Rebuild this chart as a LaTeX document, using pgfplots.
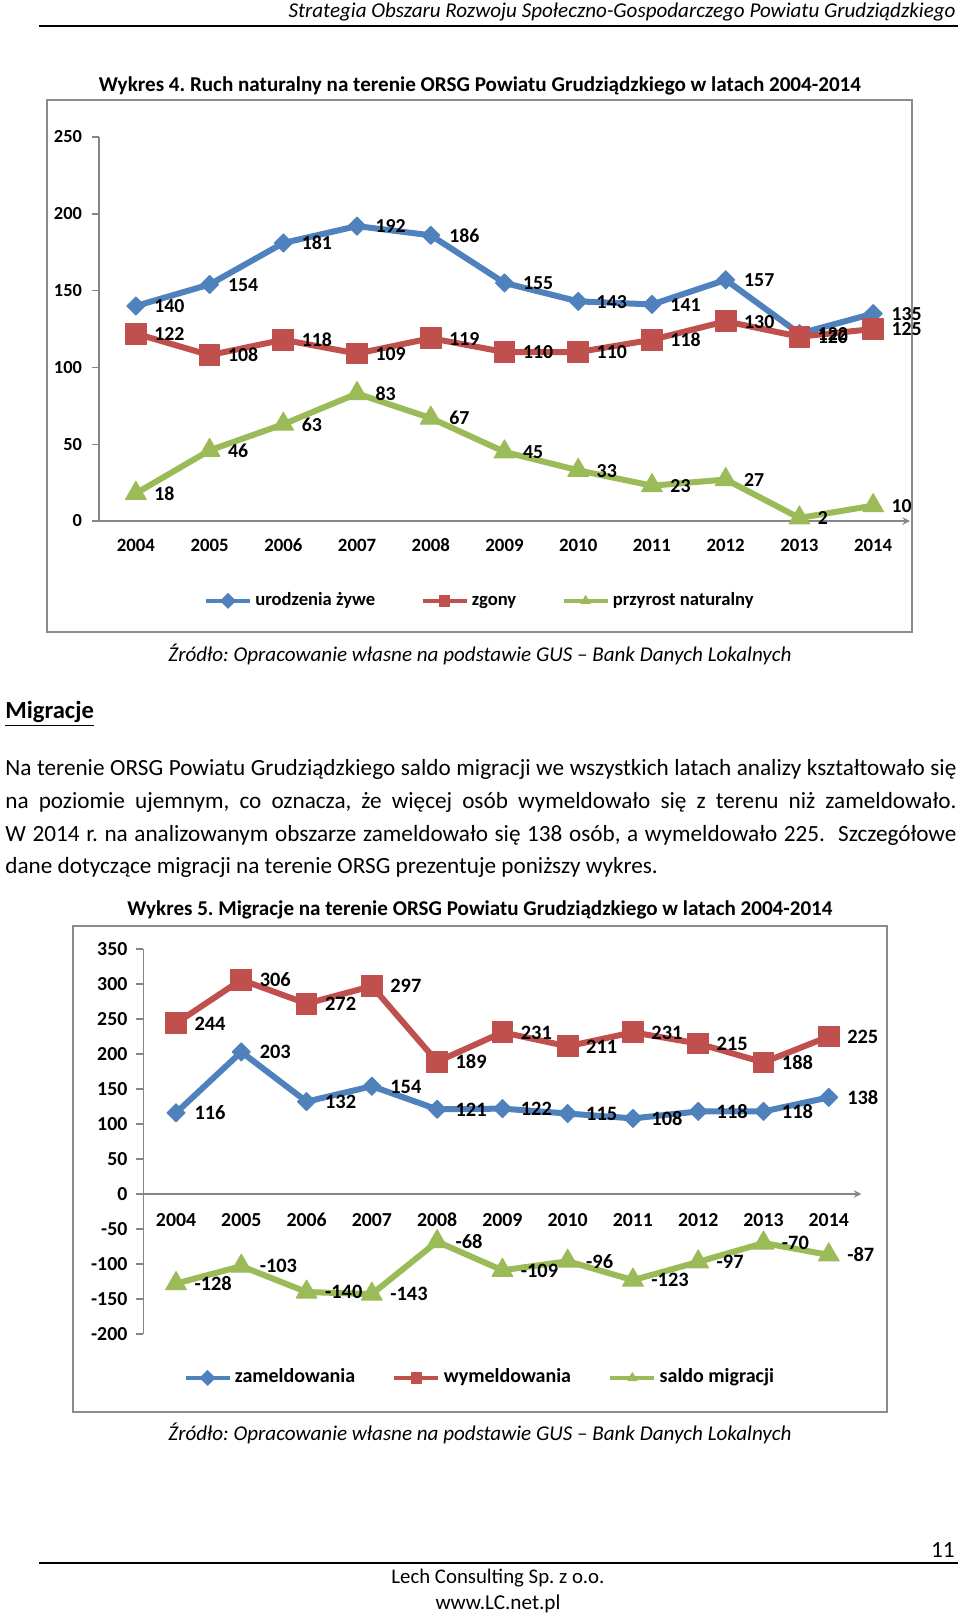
\documentclass[border=0pt]{standalone}
\usepackage{fontspec}
\setmainfont{Carlito}
\usepackage{pgfplots}
\usepackage{pgfplotstable}
\pgfplotsset{compat=1.18}
\frenchspacing
\definecolor{cblue}{HTML}{4F81BD}
\definecolor{cred}{HTML}{C0504D}
\definecolor{cgreen}{HTML}{9BBB59}
\definecolor{agrey}{HTML}{868686}
\definecolor{fgrey}{HTML}{8C8C8C}

\pgfplotstableread{
x a b c
0 140 122 18
1 154 108 46
2 181 118 63
3 192 109 83
4 186 119 67
5 155 110 45
6 143 110 33
7 141 118 23
8 157 130 27
9 122 120 2
10 135 125 10
}\dataA

\pgfplotstableread{
x a b c
0 116 244 -128
1 203 306 -103
2 132 272 -140
3 154 297 -143
4 121 189 -68
5 122 231 -109
6 115 211 -96
7 108 231 -123
8 118 215 -97
9 118 188 -70
10 138 225 -87
}\dataB

\pgfplotsset{
  xlsaxis/.style={
    scale only axis, clip=false,
    xmin=-0.5, xmax=10.5, xtick={0,1,2,3,4,5,6,7,8,9,10},
    xticklabels={2004,2005,2006,2007,2008,2009,2010,2011,2012,2013,2014},
    axis y line=left,
    axis line style={-, draw=agrey, line width=0.7pt},
    every inner x axis line/.append style={-},
    every outer x axis line/.append style={-},
    every inner y axis line/.append style={-},
    every outer y axis line/.append style={-},
    tick align=outside,
    major tick length=3.5pt,
    major y tick style={draw=agrey, line width=0.7pt},
    major x tick style={draw=none},
    /pgf/number format/assume math mode=true,
    hide obscured x ticks=false, hide obscured y ticks=false,
    nodes near coords,
    every node near coord/.append style={anchor=west, xshift=8pt, text=black, inner sep=1pt, text height=6.8pt, text depth=0pt},
    legend style={draw=none, fill=none, legend columns=3, anchor=center,
      nodes={inner sep=1.5pt, text height=7pt, text depth=2pt}},
    legend image code/.code={\draw[mark repeat=2,mark phase=2,#1] plot coordinates {(0pt,0pt) (11pt,0pt) (22pt,0pt)};},
    legend image post style={line width=2.3pt, mark size=2.6pt},
  },
  sblue/.style={color=cblue, line width=3pt, line join=round, mark=square*, mark size=3.2pt, mark options={rotate=45, solid, fill=cblue, draw=cblue, line width=0.5pt}},
  sred/.style={color=cred, line width=3pt, line join=round, mark=square*, mark size=5.2pt, mark options={solid, fill=cred, draw=cred, line width=0.5pt}},
  sgreen/.style={color=cgreen, line width=3pt, line join=round, mark=triangle*, mark size=6pt, mark options={solid, fill=cgreen, draw=cgreen, line width=0.5pt}},
}

\begin{document}
\begin{tikzpicture}
\fill[white] (0,0) rectangle (480pt,-808.5pt);
\useasboundingbox (0,0) rectangle (480pt,-808.5pt);

% header
\node[anchor=east, inner sep=0] at (478pt,-6pt) {\resizebox{333.5pt}{!}{\itshape Strategia Obszaru Rozwoju Społeczno-Gospodarczego Powiatu Grudziądzkiego}};
\draw[line width=0.8pt] (19.5pt,-13pt) -- (479pt,-13pt);

% chart 1
\node[inner sep=0] at (240pt,-43pt) {\resizebox{381pt}{!}{\bfseries Wykres 4. Ruch naturalny na terenie ORSG Powiatu Grudziądzkiego w latach 2004-2014}};
\draw[fgrey, line width=0.8pt] (23.5pt,-50pt) rectangle (456pt,-316pt);

\begin{axis}[xlsaxis,
  at={(49.5pt,-260.5pt)}, anchor=south west,
  width=405.5pt, height=192pt,
  ymin=0, ymax=250, ytick={0,50,100,150,200,250},
  axis x line=bottom,
  yticklabel style={font=\fontsize{9.2pt}{11pt}\selectfont\bfseries, xshift=-1.5pt},
  xticklabel style={font=\fontsize{9.4pt}{11pt}\selectfont\bfseries, yshift=-3pt, text height=6.8pt, text depth=0pt},
  every node near coord/.append style={font=\fontsize{9.9pt}{11pt}\selectfont\bfseries},
  legend style={at={(0.47,-0.208)}, font=\fontsize{9.3pt}{11pt}\selectfont\bfseries,
    /tikz/every even column/.append style={column sep=21pt}},
]
\addplot[sblue] table[x=x,y=a]{\dataA};
\addlegendentry{urodzenia żywe}
\addplot[sred] table[x=x,y=b]{\dataA};
\addlegendentry{zgony}
\addplot[sgreen] table[x=x,y=c]{\dataA};
\addlegendentry{przyrost naturalny}
\end{axis}

\node[inner sep=0] at (240pt,-327pt) {\resizebox{311.5pt}{!}{\itshape Źródło: Opracowanie własne na podstawie GUS – Bank Danych Lokalnych}};

% text
\node[anchor=west, inner sep=0] at (2.5pt,-357pt) {\fontsize{12.3pt}{14pt}\selectfont\bfseries\underline{Migracje}};
\begin{scope}[every node/.style={anchor=west, inner sep=0, font=\fontsize{11.6pt}{14pt}\selectfont}]
\node at (2.5pt,-384.5pt) {\makebox[475.5pt][s]{Na terenie ORSG Powiatu Grudziądzkiego saldo migracji we wszystkich latach analizy kształtowało się}};
\node at (2.5pt,-401pt) {\makebox[475.5pt][s]{na poziomie ujemnym, co oznacza, że więcej osób wymeldowało się z terenu niż zameldowało.}};
\node at (2.5pt,-417.5pt) {\makebox[475.5pt][s]{W 2014 r. na analizowanym obszarze zameldowało się 138 osób, a wymeldowało 225.\ \ Szczegółowe}};
\node at (2.5pt,-433.5pt) {dane dotyczące migracji na terenie ORSG prezentuje poniższy wykres.};
\end{scope}

% chart 2
\node[inner sep=0] at (240pt,-455pt) {\resizebox{352.5pt}{!}{\bfseries Wykres 5. Migracje na terenie ORSG Powiatu Grudziądzkiego w latach 2004-2014}};
\draw[fgrey, line width=0.8pt] (36.5pt,-463pt) rectangle (443.5pt,-706pt);

\begin{axis}[xlsaxis,
  at={(71.7pt,-667pt)}, anchor=south west,
  width=359pt, height=192.5pt,
  ymin=-200, ymax=350, ytick={-200,-150,-100,-50,0,50,100,150,200,250,300,350},
  axis x line=middle,
  yticklabel style={font=\fontsize{9.9pt}{11pt}\selectfont\bfseries, xshift=-1pt},
  xticklabel style={font=\fontsize{9.9pt}{11pt}\selectfont\bfseries, yshift=-4pt, text height=7pt, text depth=0pt},
  every node near coord/.append style={font=\fontsize{10.2pt}{11pt}\selectfont\bfseries},
  legend style={at={(0.469,-0.114)}, font=\fontsize{10pt}{11pt}\selectfont\bfseries,
    /tikz/every even column/.append style={column sep=17pt}},
]
\addplot[sblue] table[x=x,y=a]{\dataB};
\addlegendentry{zameldowania}
\addplot[sred] table[x=x,y=b]{\dataB};
\addlegendentry{wymeldowania}
\addplot[sgreen] table[x=x,y=c]{\dataB};
\addlegendentry{saldo migracji}
\end{axis}

\node[inner sep=0] at (240pt,-716.5pt) {\resizebox{311.5pt}{!}{\itshape Źródło: Opracowanie własne na podstawie GUS – Bank Danych Lokalnych}};

% footer
\node[anchor=east, inner sep=0, font=\fontsize{11.6pt}{14pt}\selectfont] at (477.5pt,-775pt) {11};
\draw[line width=0.8pt] (19.5pt,-781.5pt) -- (479pt,-781.5pt);
\node[inner sep=0] at (249pt,-789pt) {\resizebox{106.5pt}{!}{Lech Consulting Sp. z o.o.}};
\node[inner sep=0] at (249pt,-802pt) {\resizebox{62.5pt}{!}{www.LC.net.pl}};
\end{tikzpicture}
\end{document}
